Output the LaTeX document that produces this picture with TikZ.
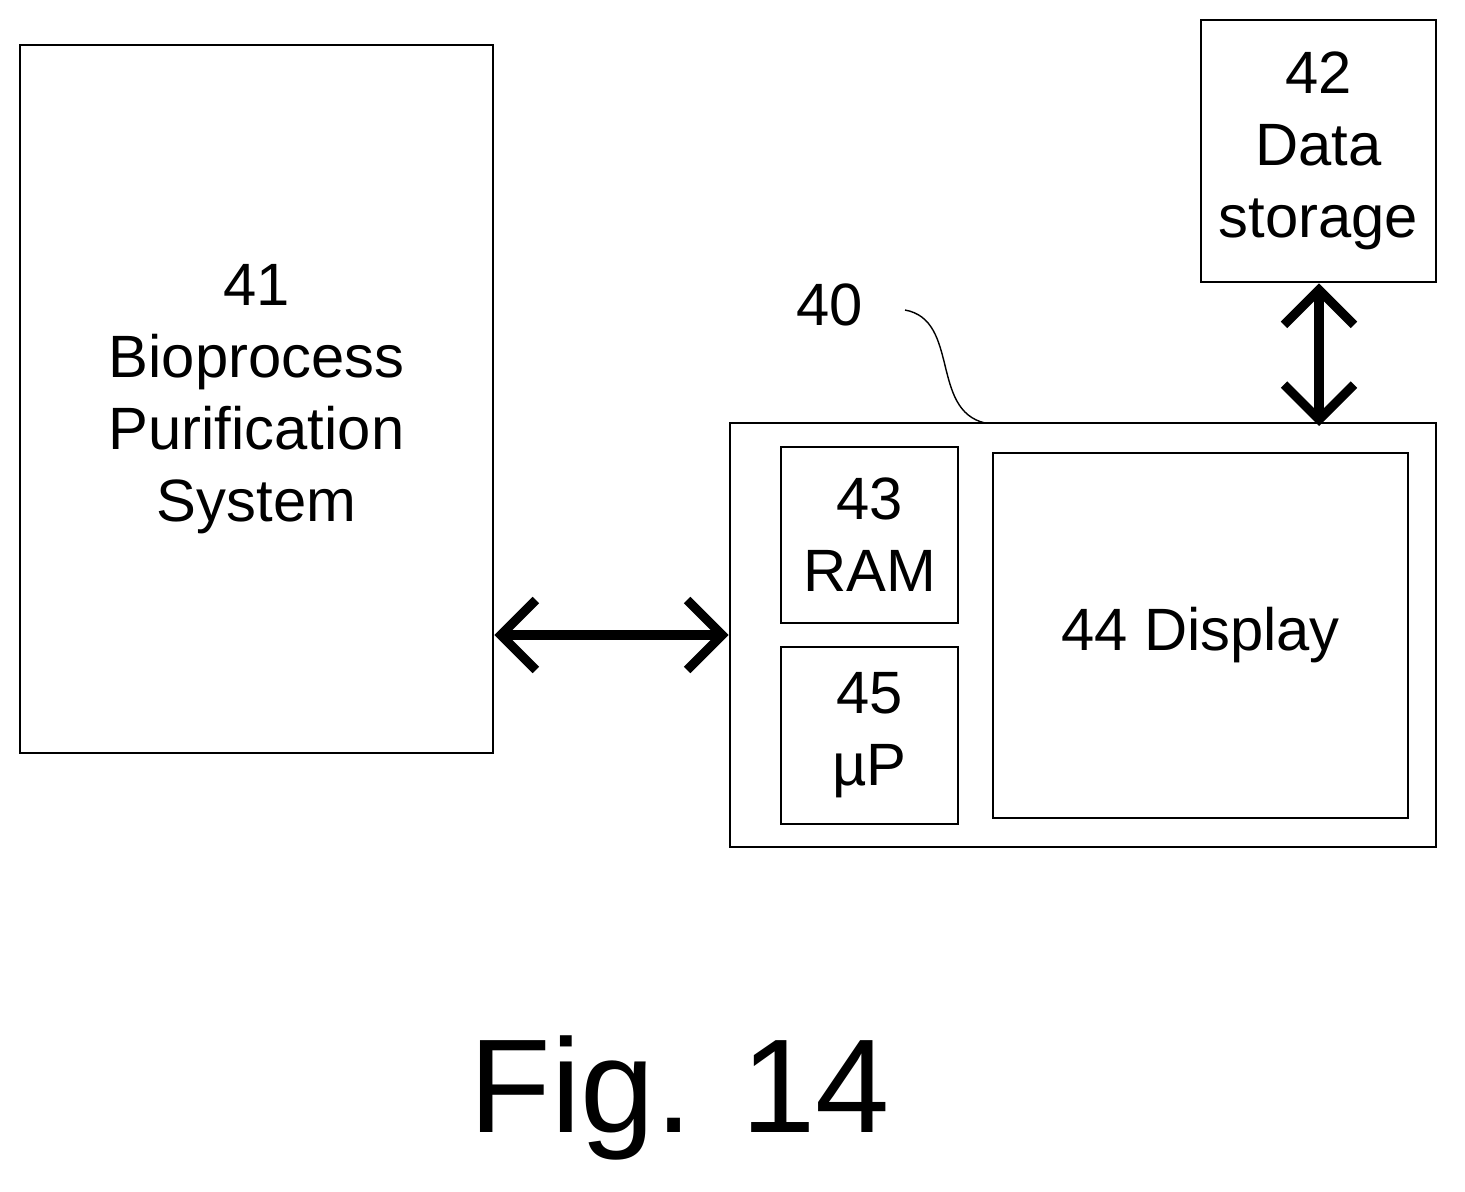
\documentclass[tikz,border=0pt]{standalone}
\usepackage{fontspec}
\setmainfont{Liberation Sans}
\usetikzlibrary{arrows.meta}
\tikzstyle{block} = [rectangle, draw=black, line width=0.8pt, inner sep=0pt, align=center, font=\fontsize{17}{20.5}\selectfont]
\tikzstyle{link} = [line width=2.6pt, {Straight Barb[length=3.5mm,width=7mm,line width=2.6pt]}-{Straight Barb[length=3.5mm,width=7mm,line width=2.6pt]}]

\begin{document}
\begin{tikzpicture}
    \useasboundingbox (0,0) rectangle (14.65,-11.92);
    \node (bio) [block, minimum width=4.73cm, minimum height=7.08cm] at (2.565,-3.99)
        {41\\Bioprocess\\Purification\\System};
    \node (store) [block, minimum width=2.35cm, minimum height=2.62cm] at (13.185,-1.51)
        {42\\Data\\storage};
    \node (comp) [block, minimum width=7.06cm, minimum height=4.24cm] at (10.83,-6.35) {};
    \node (ram) [block, minimum width=1.77cm, minimum height=1.76cm] at (8.695,-5.35)
        {43\\RAM};
    \node (mp) [block, minimum width=1.77cm, minimum height=1.77cm] at (8.695,-7.355)
        {45\\\textmu P};
    \node (disp) [block, minimum width=4.15cm, minimum height=3.65cm] at (12.005,-6.355)
        {44 Display};
    \node (lbl) [font=\fontsize{17}{20.5}\selectfont] at (8.3,-3.05) {40};
    \node (fig) [font=\fontsize{38}{44}\selectfont] at (6.8,-10.98) {Fig. 14};

    \draw [link] (bio.east |- 0,-6.35) -- (comp.west |- 0,-6.35);
    \draw [link] (store.south -| 13.19,0) -- (13.19,-4.26);
    \draw [thin] (9.05,-3.1) .. controls (9.6,-3.2) and (9.3,-4.1) .. (9.85,-4.23);
\end{tikzpicture}
\end{document}
